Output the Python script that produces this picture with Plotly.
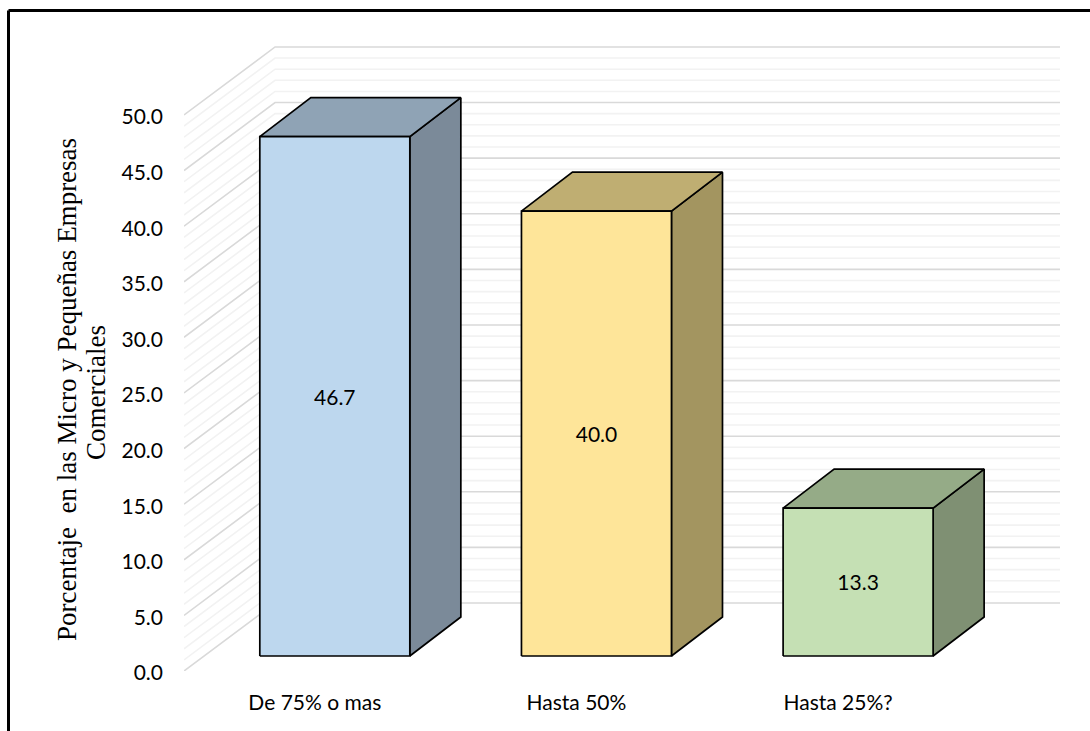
import plotly.graph_objects as go

# Chart content
categories = ["De 75% o mas", "Hasta 50%", "Hasta 25%?"]
values = [46.7, 40.0, 13.3]
value_labels = ["46.7", "40.0", "13.3"]
y_ticks = [0, 5, 10, 15, 20, 25, 30, 35, 40, 45, 50]
y_tick_labels = ["0.0", "5.0", "10.0", "15.0", "20.0", "25.0", "30.0", "35.0", "40.0", "45.0", "50.0"]
y_title_lines = ["Porcentaje  en las Micro y Pequeñas Empresas", "Comerciales"]

# Face colours per bar: front, top, side
front_colors = ["#BDD7EE", "#FEE599", "#C5E0B4"]
top_colors = ["#8FA3B5", "#BFAE72", "#95AB87"]
side_colors = ["#7B8A99", "#A39560", "#7F9073"]

# Oblique projection, in axis units (x: one category = 1, y: one percentage point = 1)
X_MIN, X_MAX = -0.5, 2.848
Y_MIN, Y_MAX = 0.0, 56.2
WALL_DX, WALL_DY = 0.348, 6.115      # depth of the floor and side wall
BAR_INSET_X, BAR_INSET_Y = 0.0764, 1.35  # how far the bar front sits behind the axis edge
BAR_DX, BAR_DY = 0.195, 3.507        # depth of a bar
BAR_WIDTH = 0.5733
LABEL_DROP = 0.27                    # value labels sit just under the middle of the front face

fig = go.Figure()


def add_grid(levels, color):
    # Each gridline runs up the side wall and then across the back wall
    xs, ys = [], []
    for v in levels:
        xs += [X_MIN, X_MIN + WALL_DX, X_MAX, None]
        ys += [v, v + WALL_DY, v + WALL_DY, None]
    fig.add_trace(go.Scatter(x=xs, y=ys, mode="lines", line=dict(color=color, width=1.6),
                             hoverinfo="skip", showlegend=False, cliponaxis=False))


add_grid([v for v in range(0, 51) if v % 5], "#F2F2F2")
add_grid(list(range(0, 51, 5)), "#D9D9D9")


def add_face(xs, ys, color):
    fig.add_trace(go.Scatter(x=xs, y=ys, mode="lines", fill="toself", fillcolor=color,
                             line=dict(color="#000000", width=1.7), hoverinfo="skip",
                             showlegend=False, cliponaxis=False))


for i, (value, label) in enumerate(zip(values, value_labels)):
    x0 = i + BAR_INSET_X - BAR_WIDTH / 2
    x1 = x0 + BAR_WIDTH
    y0 = BAR_INSET_Y
    y1 = y0 + value
    add_face([x1, x1 + BAR_DX, x1 + BAR_DX, x1, x1],
             [y0, y0 + BAR_DY, y1 + BAR_DY, y1, y0], side_colors[i])
    add_face([x0, x0 + BAR_DX, x1 + BAR_DX, x1, x0],
             [y1, y1 + BAR_DY, y1 + BAR_DY, y1, y1], top_colors[i])
    add_face([x0, x1, x1, x0, x0], [y0, y0, y1, y1, y0], front_colors[i])
    fig.add_trace(go.Scatter(x=[(x0 + x1) / 2], y=[(y0 + y1) / 2 - LABEL_DROP], mode="text",
                             text=[label], textposition="middle center",
                             textfont=dict(family="Lato", size=21, color="#000000"),
                             hoverinfo="skip", showlegend=False))

W, H = 1090, 731
ML, MR, MT, MB = 184, 30, 46, 60
PLOT_W, PLOT_H = W - ML - MR, H - MT - MB


def paper_x(px):
    return (px - ML) / PLOT_W


def paper_y(px):
    return (H - MB - px) / PLOT_H


# The two rotated title lines sit closer together than a single multi-line label would
title_positions = [(67, 390), (96, 393)]

fig.update_layout(
    width=W, height=H, autosize=False,
    margin=dict(l=ML, r=MR, t=MT, b=MB),
    paper_bgcolor="#FFFFFF", plot_bgcolor="#FFFFFF",
    font=dict(family="Lato", size=21, color="#000000"),
    showlegend=False,
    xaxis=dict(range=[X_MIN, X_MAX], tickmode="array", tickvals=[0, 1, 2], ticktext=categories,
               showgrid=False, zeroline=False, showline=False, ticks="", ticklabelstandoff=17,
               tickfont=dict(family="Lato", size=21)),
    yaxis=dict(range=[Y_MIN, Y_MAX], tickmode="array", tickvals=y_ticks, ticktext=y_tick_labels,
               showgrid=False, zeroline=False, showline=False, ticks="", ticklabelstandoff=20,
               ticklabelshift=2, tickfont=dict(family="Lato", size=21)),
    annotations=[dict(text=line, xref="paper", yref="paper",
                      x=paper_x(px), y=paper_y(py),
                      xanchor="center", yanchor="middle", textangle=-90, showarrow=False,
                      font=dict(family="Liberation Serif", size=27, color="#000000"))
                 for line, (px, py) in zip(y_title_lines, title_positions)],
    shapes=[
        # Outer frame: top and left edges
        dict(type="line", xref="paper", yref="paper",
             x0=paper_x(8.5), x1=paper_x(W), y0=paper_y(10.5), y1=paper_y(10.5),
             line=dict(color="#000000", width=3)),
        dict(type="line", xref="paper", yref="paper",
             x0=paper_x(8.5), x1=paper_x(8.5), y0=paper_y(10.5), y1=paper_y(H),
             line=dict(color="#000000", width=3)),
    ],
)

fig.write_html("out.html")
